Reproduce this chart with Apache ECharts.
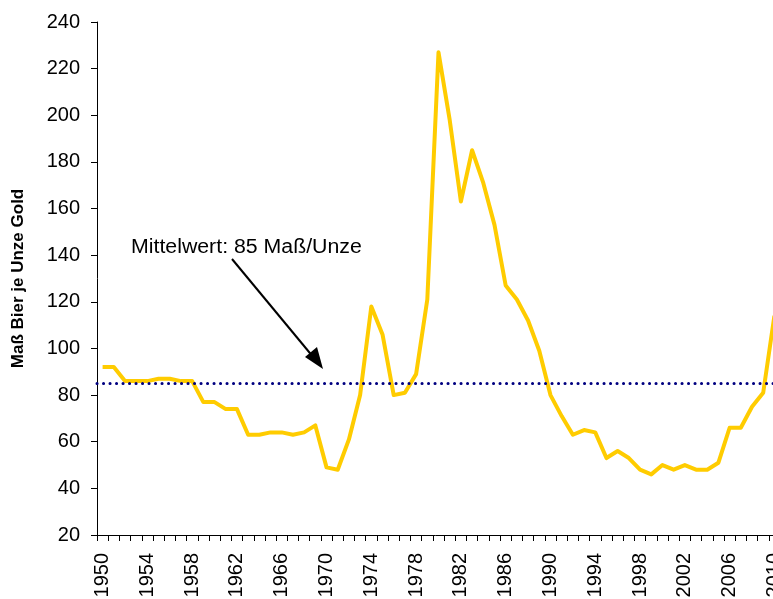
<!DOCTYPE html>
<html>
<head>
<meta charset="utf-8">
<script src="https://cdn.jsdelivr.net/npm/echarts@6/dist/echarts.min.js"></script>
<style>
  html, body { margin: 0; padding: 0; background: #fff; }
  #chart { width: 773px; height: 599px; }
</style>
</head>
<body>
<div id="chart"></div>
<script>
// Years on the category axis
const years = [];
for (let y = 1950; y <= 2010; y++) years.push(String(y));

// Maß Bier je Unze Gold, one value per year 1950–2010
const ratio = [
  92, 92, 86, 86, 86, 87, 87, 86, 86, 77,
  77, 74, 74, 63, 63, 64, 64, 63, 64, 67,
  49, 48, 61, 80, 118, 106, 80, 81, 89, 121,
  227, 198, 163, 185, 171, 153, 127, 121, 112, 99,
  80, 71, 63, 65, 64, 53, 56, 53, 48, 46,
  50, 48, 50, 48, 48, 51, 66, 66, 75, 81,
  114
];

// Long-run mean
const meanValue = 85;
const meanLabel = 'Mittelwert: 85 Maß/Unze';

const yTicks = { min: 20, max: 240, interval: 20 };

const chart = echarts.init(document.getElementById('chart'));
const font = 'Liberation Sans, Arial, sans-serif';

chart.setOption({
  animation: false,
  // plot area runs a little past the right edge of the canvas
  grid: {
    left: 97, top: 22, height: 513, width: 683,
    containLabel: false,
    outerBoundsMode: 'none'
  },
  xAxis: {
    type: 'category',
    data: years,
    boundaryGap: true,
    axisLine: { lineStyle: { color: '#000', width: 1 } },
    axisTick: { show: true, interval: 0, length: 6, lineStyle: { color: '#000' } },
    axisLabel: {
      interval: 3,
      rotate: 90,
      margin: 18,
      color: '#000',
      fontFamily: font,
      fontSize: 20
    },
    splitLine: { show: false }
  },
  yAxis: {
    type: 'value',
    min: yTicks.min,
    max: yTicks.max,
    interval: yTicks.interval,
    name: 'Maß Bier je Unze Gold',
    nameLocation: 'middle',
    nameGap: 70,
    nameRotate: 90,
    nameTextStyle: { color: '#000', fontFamily: font, fontSize: 17, fontWeight: 'bold' },
    axisLine: { show: true, lineStyle: { color: '#000', width: 1 } },
    axisTick: { show: true, length: 6, lineStyle: { color: '#000' } },
    axisLabel: { color: '#000', fontFamily: font, fontSize: 20, margin: 17 },
    splitLine: { show: false }
  },
  series: [{
    type: 'line',
    data: ratio,
    symbol: 'none',
    lineStyle: { color: '#FFCC00', width: 4, join: 'round' },
    markLine: {
      silent: true,
      symbol: 'none',
      label: { show: false },
      lineStyle: { color: '#000080', width: 3, type: [0.1, 6.4], cap: 'round' },
      data: [{ yAxis: meanValue }]
    }
  }],
  graphic: [
    {
      type: 'text',
      x: 131,
      y: 237,
      scaleX: 1.065,
      style: { text: meanLabel, fill: '#000', font: '20px ' + font }
    },
    {
      type: 'line',
      shape: { x1: 232, y1: 259, x2: 314, y2: 358 },
      style: { stroke: '#000', lineWidth: 2 }
    },
    {
      type: 'polygon',
      shape: { points: [[323, 369], [305, 357], [317, 347]] },
      style: { fill: '#000' }
    }
  ]
});
</script>
</body>
</html>
